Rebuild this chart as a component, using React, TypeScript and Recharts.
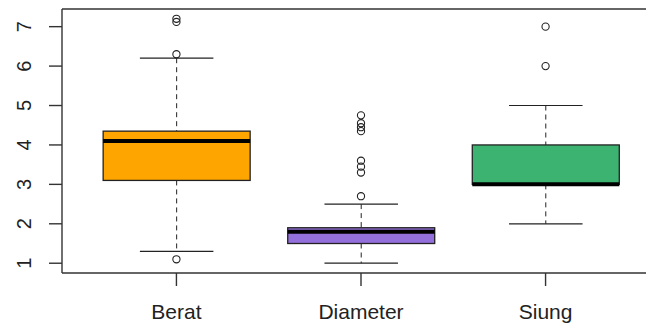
import React from "react";
import { ComposedChart, Bar, Scatter, XAxis, YAxis, ReferenceLine } from "recharts";

// box statistics per group
const categories = ["Berat", "Diameter", "Siung"];
const whiskerLow = [1.3, 1.0, 2.0];
const lowerQuartile = [3.1, 1.5, 3.0];
const medians = [4.1, 1.8, 3.0];
const upperQuartile = [4.35, 1.9, 4.0];
const whiskerHigh = [6.2, 2.5, 5.0];
const outliers = [
  [7.2, 7.12, 6.3, 1.1],
  [4.75, 4.55, 4.45, 4.35, 3.6, 3.45, 3.3, 2.7],
  [7.0, 6.0],
];
const fills = ["#FFA500", "#9370DB", "#3CB371"];
const yTicks = [1, 2, 3, 4, 5, 6, 7];
const yDomain = [0.752, 7.448];
const xDomain = [0.38, 3.62];

const boxRows = categories.map((name, i) => ({
  pos: i + 1,
  name,
  low: whiskerLow[i],
  q1: lowerQuartile[i],
  median: medians[i],
  q3: upperQuartile[i],
  high: whiskerHigh[i],
  fill: fills[i],
}));

const outlierRows = outliers.flatMap((vals, i) =>
  vals.map((value) => ({ pos: i + 1, value }))
);

const INK = "#222";
const FRAME = "#333";
const FONT = "'Liberation Sans', Arial, sans-serif";

function BoxShape(props: any) {
  const { x, y, width, height, payload } = props;
  const { low, q1, median, q3, high, fill } = payload;
  // linear map inside the whisker range given by the bar
  const py = (v: number) => y + (height * (high - v)) / (high - low);
  const cx = x + width / 2;
  const cap = width / 4;
  return (
    <g>
      <line x1={cx} x2={cx} y1={py(high)} y2={py(q3)} stroke={INK} strokeDasharray="5 4" />
      <line x1={cx} x2={cx} y1={py(q1)} y2={py(low)} stroke={INK} strokeDasharray="5 4" />
      <line x1={cx - cap} x2={cx + cap} y1={py(high)} y2={py(high)} stroke={INK} strokeWidth={1.2} />
      <line x1={cx - cap} x2={cx + cap} y1={py(low)} y2={py(low)} stroke={INK} strokeWidth={1.2} />
      <rect
        x={x}
        y={py(q3)}
        width={width}
        height={py(q1) - py(q3)}
        fill={fill}
        stroke={INK}
        strokeWidth={1.3}
      />
      <line x1={x} x2={x + width} y1={py(median)} y2={py(median)} stroke="#000" strokeWidth={4} />
    </g>
  );
}

function Outlier(props: any) {
  const { cx, cy } = props;
  return <circle cx={cx} cy={cy} r={3.6} fill="none" stroke={INK} strokeWidth={1.1} />;
}

function YTick(props: any) {
  const { x, y, payload } = props;
  return (
    <text
      x={x}
      y={y}
      transform={`rotate(-90, ${x}, ${y})`}
      textAnchor="middle"
      fontSize={20}
      fontFamily={FONT}
      fill={INK}
    >
      {payload.value}
    </text>
  );
}

export default function App() {
  return (
    <div
      style={{
        position: "absolute",
        left: 0,
        top: 0,
        width: 646,
        height: 323,
        overflow: "hidden",
        background: "#fff",
      }}
    >
      <ComposedChart
        width={664}
        height={323}
        data={boxRows}
        margin={{ top: 9, right: 4, left: 0, bottom: 0 }}
      >
        <XAxis
          dataKey="pos"
          type="number"
          domain={xDomain}
          allowDataOverflow
          ticks={[1, 2, 3]}
          tickFormatter={(v: number) => categories[v - 1]}
          height={50}
          tickSize={13}
          tickMargin={18}
          axisLine={{ stroke: FRAME, strokeWidth: 1.4 }}
          tickLine={{ stroke: FRAME, strokeWidth: 1.4 }}
          tick={{ fill: INK, fontSize: 21, fontFamily: FONT }}
        />
        <YAxis
          type="number"
          domain={yDomain}
          allowDataOverflow
          ticks={yTicks}
          width={62}
          tickSize={13}
          tickMargin={18}
          axisLine={{ stroke: FRAME, strokeWidth: 1.4 }}
          tickLine={{ stroke: FRAME, strokeWidth: 1.4 }}
          tick={<YTick />}
        />
        <ReferenceLine y={yDomain[1]} stroke={FRAME} strokeWidth={1.4} ifOverflow="visible" />
        <Bar
          dataKey={(d: any) => [d.low, d.high]}
          barSize={147}
          shape={<BoxShape />}
          isAnimationActive={false}
        />
        <Scatter
          data={outlierRows}
          dataKey="value"
          shape={<Outlier />}
          isAnimationActive={false}
        />
      </ComposedChart>
    </div>
  );
}
